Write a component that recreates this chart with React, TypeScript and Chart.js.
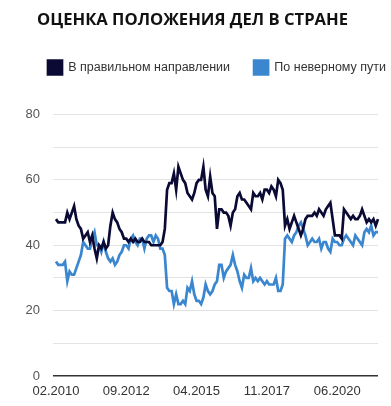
import { useEffect, useRef } from "react";
import { Chart, registerables } from "chart.js";

Chart.register(...registerables);

const TITLE = "ОЦЕНКА ПОЛОЖЕНИЯ ДЕЛ В СТРАНЕ";
const SERIES_NAMES = ["В правильном направлении", "По неверному пути"];

// monthly categories 02.2010 … 12.2021
const START_YEAR = 2010;
const START_MONTH = 2;
const MONTH_COUNT = 143;
const categories: string[] = [];
for (let i = 0; i < MONTH_COUNT; i++) {
  const m = ((START_MONTH - 1 + i) % 12) + 1;
  const y = START_YEAR + Math.floor((START_MONTH - 1 + i) / 12);
  categories.push(String(m).padStart(2, "0") + "." + y);
}

const X_TICK_LABELS = ["02.2010", "09.2012", "04.2015", "11.2017", "06.2020"];
const Y_TICK_LABELS = [0, 20, 40, 60, 80];

const rightDirection = [
  48, 47, 47, 47, 47, 50, 48, 50, 52, 48,
  46, 45, 42, 43, 44, 41, 43, 39, 36, 40,
  39, 41, 39, 40, 46, 50, 48, 47, 45, 44,
  42, 42, 41, 42, 41, 42, 41, 41, 42, 41,
  41, 41, 40, 40, 40, 40, 40, 41, 45, 57,
  59, 59, 62, 57, 64, 62, 60, 59, 56, 55,
  54, 56, 59, 60, 60, 64, 57, 55, 61, 56,
  55, 45, 51, 51, 50, 50, 49, 46, 50, 51,
  55, 56, 54, 54, 53, 52, 51, 56, 55, 55,
  56, 54, 57, 57, 56, 58, 57, 55, 60, 59,
  57, 46, 48, 45, 47, 49, 47, 45, 43, 45,
  48, 49, 49, 49, 50, 49, 51, 50, 49, 51,
  52, 53, 48, 43, 43, 43, 42, 51, 50, 49,
  48, 49, 48, 48, 49, 51, 49, 47, 48, 47,
  48, 46, 48,
];

const wrongPath = [
  35, 34, 34, 34, 35, 29, 32, 31, 31, 33,
  35, 37, 41, 40, 39, 39, 42, 44, 40, 40,
  38, 41, 38, 36, 35, 36, 34, 35, 37, 38,
  40, 40, 39, 42, 43, 41, 40, 42, 42, 39,
  42, 43, 43, 41, 43, 42, 39, 39, 37, 27,
  26, 26, 22, 25, 22, 22, 23, 22, 27, 26,
  29, 25, 23, 23, 22, 24, 28, 26, 25, 26,
  28, 29, 34, 34, 30, 32, 33, 34, 37, 34,
  32, 29, 27, 31, 30, 30, 33, 29, 30, 29,
  30, 29, 28, 29, 28, 28, 28, 30, 26, 26,
  28, 42, 43, 42, 41, 43, 44, 46, 47, 45,
  43, 40, 41, 42, 41, 41, 42, 39, 41, 41,
  39, 38, 42, 41, 41, 40, 40, 42, 43, 42,
  41, 40, 43, 42, 41, 40, 44, 45, 44, 46,
  43, 44, 44,
];

const DARK = "#0a0a35";
const BLUE = "#3a86cf";

export default function App() {
  const ref = useRef<HTMLCanvasElement | null>(null);

  useEffect(() => {
    document.body.style.margin = "0";
    const canvas = ref.current;
    if (!canvas) return;

    const layoutTweak = {
      id: "layoutTweak",
      beforeLayout(chart: any) {
        const l = chart.legend;
        if (l && !l._patched) {
          const orig = l.fit;
          l.fit = function () {
            const mw = this.maxWidth;
            this.maxWidth = 2000;
            orig.call(this);
            this.maxWidth = mw;
            this.width = mw;
            this.height += 30;
          };
          l._patched = true;
        }
      },
      afterLayout(chart: any) {
        const l = chart.legend;
        if (l) {
          l.left = 24;
          l.right = 2000;
        }
        const t = chart.titleBlock;
        if (t) {
          const dx = 192.5 - (t.left + t.right) / 2;
          t.left += dx;
          t.right += dx;
        }
      },
    };

    const chart = new Chart(canvas, {
      type: "line",
      data: {
        labels: categories,
        datasets: [
          {
            label: SERIES_NAMES[0],
            data: rightDirection,
            borderColor: DARK,
            backgroundColor: DARK,
            borderWidth: 2.7,
            pointRadius: 0,
            tension: 0,
          },
          {
            label: SERIES_NAMES[1],
            data: wrongPath,
            borderColor: BLUE,
            backgroundColor: BLUE,
            borderWidth: 2.7,
            pointRadius: 0,
            tension: 0,
          },
        ],
      },
      options: {
        animation: false,
        responsive: true,
        maintainAspectRatio: false,
        layout: { padding: { left: 12.5, right: 13, top: 0, bottom: -1.6 } },
        plugins: {
          title: {
            display: true,
            text: TITLE,
            color: "#111",
            font: { family: "'Open Sans', sans-serif", size: 16.6, weight: "bold" },
            padding: { top: 10, bottom: 6.6 },
          },
          legend: {
            display: true,
            position: "top",
            align: "start",
            labels: {
              boxWidth: 14,
              boxHeight: 14,
              padding: 24,
              color: "#333",
              font: { family: "'Liberation Sans', Arial, sans-serif", size: 12.5 },
            },
          },
          tooltip: { enabled: false },
        },
        scales: {
          x: {
            grid: { display: false, drawTicks: false },
            border: { display: false },
            ticks: {
              autoSkip: false,
              maxRotation: 0,
              padding: 8,
              color: "#333",
              font: { family: "'Liberation Sans', Arial, sans-serif", size: 13 },
              callback: function (_v: any, i: number) {
                const lab = categories[i];
                return X_TICK_LABELS.includes(lab) ? lab : "";
              },
            },
          },
          y: {
            min: 0,
            max: 80,
            border: { display: false },
            grid: {
              tickLength: 3,
              color: (ctx: any) => (ctx.tick && ctx.tick.value === 0 ? "#333" : "#e3e3e3"),
              lineWidth: (ctx: any) => (ctx.tick && ctx.tick.value === 0 ? 1.5 : 1),
            },
            ticks: {
              stepSize: 10,
              padding: 13,
              color: "#555",
              font: { family: "'Liberation Sans', Arial, sans-serif", size: 13 },
              callback: function (v: any) {
                return Y_TICK_LABELS.includes(Number(v)) ? String(v) : "";
              },
            },
          },
        },
      },
      plugins: [layoutTweak],
    } as any);

    return () => chart.destroy();
  }, []);

  return (
    <div style={{ position: "relative", width: 391, height: 406 }}>
      <canvas ref={ref} />
    </div>
  );
}
